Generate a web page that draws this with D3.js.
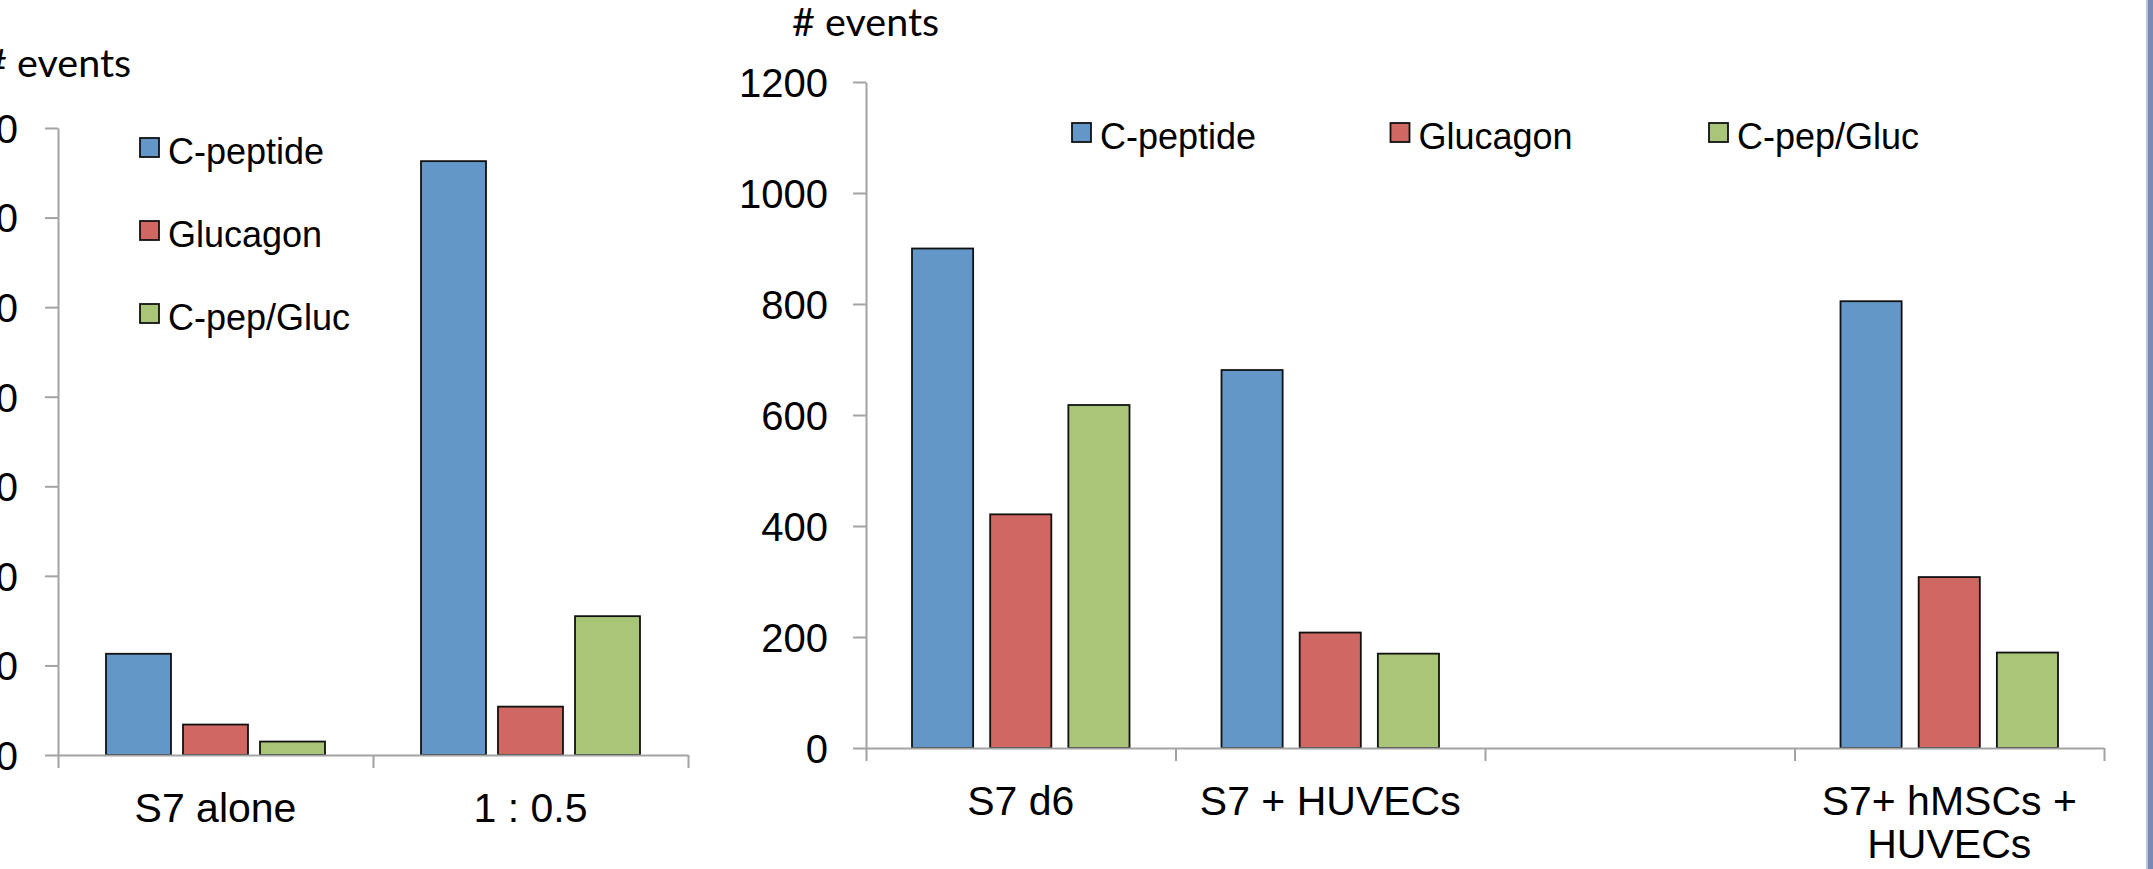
<!DOCTYPE html>
<html>
<head>
<meta charset="utf-8">
<script src="https://cdn.jsdelivr.net/npm/d3@7"></script>
<style>
  html, body { margin: 0; padding: 0; background: #ffffff; }
  svg { display: block; }
  .tick text { font-family: "Liberation Sans", Arial, sans-serif; fill: #000; }
</style>
</head>
<body>
<svg id="fig" width="2153" height="869"></svg>
<script>
// ---- data -------------------------------------------------------------
const seriesNames = ["C-peptide", "Glucagon", "C-pep/Gluc"];
const seriesColors = ["#6397c8", "#cf6862", "#a9c577"];

const leftCategories = ["S7 alone", "1 : 0.5"];
const leftCpeptide   = [113, 663];
const leftGlucagon   = [34, 54];
const leftCpepGluc   = [15, 155];
const leftTicks      = [0, 100, 200, 300, 400, 500, 600, 700];

const rightCategories = ["S7 d6", "S7 + HUVECs", "", "S7+ hMSCs + HUVECs"];
const rightCpeptide   = [900, 681, null, 805];
const rightGlucagon   = [421, 208, null, 308];
const rightCpepGluc   = [618, 170, null, 172];
const rightTicks      = [0, 200, 400, 600, 800, 1000, 1200];

// ---- drawing ----------------------------------------------------------
const svg = d3.select("#fig");
const AXIS = "#a3a3a3";
const FONT = "'Liberation Sans', Arial, sans-serif";

function drawChart(cfg) {
  const g = svg.append("g");
  const series = [cfg.s1, cfg.s2, cfg.s3];

  const y = d3.scaleLinear()
    .domain([0, d3.max(cfg.ticks)])
    .range([cfg.yBase, cfg.yTop]);

  const x0 = d3.scaleBand()
    .domain(d3.range(cfg.categories.length))
    .range([cfg.xStart, cfg.xEnd])
    .paddingInner(0).paddingOuter(0);

  const x1 = d3.scaleBand()
    .domain(seriesNames)
    .range([cfg.groupMargin, x0.bandwidth() - cfg.groupMargin])
    .paddingInner(cfg.barGap);

  // bars
  const rows = [];
  cfg.categories.forEach((c, i) => {
    seriesNames.forEach((s, k) => {
      const v = series[k][i];
      if (v != null) rows.push({ i, s, k, v });
    });
  });
  g.append("g").selectAll("rect").data(rows).join("rect")
    .attr("x", d => x0(d.i) + x1(d.s))
    .attr("y", d => y(d.v))
    .attr("width", x1.bandwidth())
    .attr("height", d => y(0) - y(d.v))
    .attr("fill", d => seriesColors[d.k])
    .attr("stroke", "#111")
    .attr("stroke-width", 1.8);

  // y axis
  const ya = g.append("g")
    .attr("transform", `translate(${cfg.xStart},0)`)
    .call(d3.axisLeft(y).tickValues(cfg.ticks).tickSize(13).tickSizeOuter(0)
      .tickPadding(cfg.tickPad).tickFormat(d3.format("d")));
  ya.selectAll("text").attr("font-size", 40).attr("dy", "0.36em");
  ya.selectAll("line, path").attr("stroke", AXIS).attr("stroke-width", 2);

  // x axis: ticks at category boundaries
  const xb = d3.scaleLinear().domain([0, cfg.categories.length]).range([cfg.xStart, cfg.xEnd]);
  const xa = g.append("g")
    .attr("transform", `translate(0,${cfg.yBase})`)
    .call(d3.axisBottom(xb).tickValues(d3.range(cfg.categories.length + 1))
      .tickSize(13).tickSizeOuter(0).tickFormat(""));
  xa.selectAll("line, path").attr("stroke", AXIS).attr("stroke-width", 2);

  // category labels, wrapped to the band width
  cfg.categories.forEach((c, i) => {
    if (!c) return;
    const cx = x0(i) + x0.bandwidth() / 2;
    const t = g.append("text")
      .attr("x", cx)
      .attr("y", cfg.yBase + 67)
      .attr("text-anchor", "middle")
      .attr("font-family", FONT)
      .attr("font-size", 41)
      .attr("fill", "#000");
    const words = c.split(" ");
    let line = [];
    let ts = t.append("tspan").attr("x", cx).attr("dy", 0);
    words.forEach(w => {
      line.push(w);
      ts.text(line.join(" "));
      if (ts.node().getComputedTextLength() > x0.bandwidth() - 20 && line.length > 1) {
        line.pop();
        ts.text(line.join(" "));
        line = [w];
        ts = t.append("tspan").attr("x", cx).attr("dy", 43).text(w);
      }
    });
  });

  // axis title
  g.append("text")
    .attr("x", cfg.xStart - 74)
    .attr("y", cfg.titleY)
    .attr("font-family", "Lato, 'Open Sans', sans-serif")
    .attr("font-size", 39.5)
    .attr("fill", "#000")
    .text("# events");

  // legend
  const lg = g.append("g").selectAll("g").data(seriesNames).join("g")
    .attr("transform", (d, k) => `translate(${cfg.legendX + k * cfg.legendDX},${cfg.legendY + k * cfg.legendDY})`);
  lg.append("rect")
    .attr("width", 19).attr("height", 19)
    .attr("fill", (d, k) => seriesColors[k])
    .attr("stroke", "#111").attr("stroke-width", 1.8);
  lg.append("text")
    .attr("x", 28).attr("y", 26)
    .attr("font-family", FONT)
    .attr("font-size", 36)
    .attr("fill", "#000")
    .text(d => d);
}

drawChart({
  categories: leftCategories, s1: leftCpeptide, s2: leftGlucagon, s3: leftCpepGluc,
  ticks: leftTicks,
  xStart: 58, xEnd: 688, yBase: 755, yTop: 128,
  groupMargin: 48, barGap: 0.156, tickPad: 27, titleY: 77,
  legendX: 140, legendY: 138, legendDX: 0, legendDY: 83
});

drawChart({
  categories: rightCategories, s1: rightCpeptide, s2: rightGlucagon, s3: rightCpepGluc,
  ticks: rightTicks,
  xStart: 866, xEnd: 2104, yBase: 748, yTop: 82,
  groupMargin: 46, barGap: 0.218, tickPad: 25, titleY: 36,
  legendX: 1072, legendY: 123, legendDX: 318.5, legendDY: 0
});

// slide border strip on the right edge
svg.append("rect").attr("x", 2146).attr("y", 0).attr("width", 2).attr("height", 869).attr("fill", "#b9c3db");
svg.append("rect").attr("x", 2148).attr("y", 0).attr("width", 5).attr("height", 869).attr("fill", "#7a8bb3");
</script>
</body>
</html>
